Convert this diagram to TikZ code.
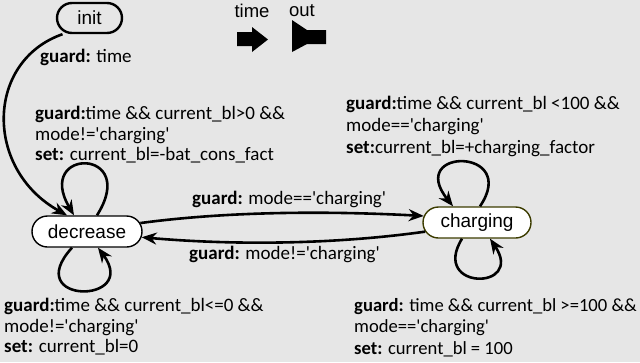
\documentclass[tikz,border=0pt]{standalone}
\usepackage{fontspec}
\newfontfamily\calfont{Carlito}
\newfontfamily\arialfont{Liberation Sans}
\usetikzlibrary{arrows.meta,shapes.misc}

\definecolor{bggray}{RGB}{230,230,230}
\definecolor{chargeedge}{RGB}{60,60,0}

\tikzset{
	state/.style = {rounded rectangle, draw, line width=1.4pt, fill=white, minimum height=31pt, inner sep=0pt, font=\arialfont\fontsize{19}{22}\selectfont},
	trans/.style = {line width=2.6pt, -{Stealth[length=15pt,width=12pt]}},
	guardtxt/.style = {inner sep=0pt, anchor=north west, align=left, font=\calfont\fontsize{19}{20.5}\selectfont},
	porttxt/.style = {inner sep=0pt, font=\arialfont\fontsize{18.5}{20}\selectfont}
}

\begin{document}
\begin{tikzpicture}[x=1pt, y=-1pt]
	\fill [bggray] (0,0) rectangle (640,362);
	\useasboundingbox (0,0) rectangle (640,362);
	% states
	\node [state, fill=bggray, line width=2.4pt, minimum width=65pt, minimum height=30pt] (init) at (89.5,18) {init};
	\node [state, minimum width=110pt] (dec) at (87,231.5) {decrease};
	\node [state, draw=chargeedge, minimum width=108pt] (chg) at (477,222.5) {charging};
	% ports
	\node [porttxt] (timelbl) at (252,11) {time};
	\node [porttxt] (outlbl) at (302,11) {out};
	\fill (237,32) -- (252,32) -- (252,27) -- (268,39.5) -- (252,52) -- (252,46) -- (237,46) -- cycle;
	\fill (292,20) -- (307,30) -- (326,30) -- (326,44) -- (307,44) -- (292,52) -- cycle;
	% transitions
	\draw [trans] ([xshift=-27pt]init.south) .. controls +(-77,27) and +(-83,-46) .. ([xshift=-20pt]dec.north);
	\draw [trans] ([xshift=10pt]dec.north) .. controls +(43,-68) and +(-40,-68) .. ([xshift=-13pt]dec.north);
	\draw [trans] ([xshift=-15pt]dec.south) .. controls +(-52,57) and +(42,57) .. ([xshift=11pt]dec.south);
	\draw [trans] ([xshift=3pt]chg.north) .. controls +(40,-59) and +(-47,-59) .. ([xshift=-24pt]chg.north);
	\draw [trans] ([xshift=-15pt]chg.south) .. controls +(-32,52) and +(35,52) .. ([xshift=13pt]chg.south);
	\draw [trans] (dec.9) .. controls (230,211) and (330,211) .. (chg.173);
	\draw [trans] (chg.190) .. controls (330,245) and (230,245) .. (dec.354);
	% guards
	\node [guardtxt] (gtime) at (40,49) {\textbf{guard:} time};
	\node [guardtxt] (gdec) at (35,106) {\textbf{guard:}time \&\& current\_bl>0 \&\&\\ mode!='charging'\\ \textbf{set:} current\_bl=-bat\_cons\_fact};
	\node [guardtxt, font=\calfont\fontsize{19}{22}\selectfont] (gchg) at (346,96) {\textbf{guard:}time \&\& current\_bl <100 \&\&\\ mode=='charging'\\ \textbf{set:}current\_bl=+charging\_factor};
	\node [guardtxt] (gzero) at (4,298) {\textbf{guard:}time \&\& current\_bl<=0 \&\&\\ mode!='charging'\\ \textbf{set:} current\_bl=0};
	\node [guardtxt, font=\calfont\fontsize{18.6}{21.5}\selectfont] (gfull) at (354,298) {\textbf{guard:} time \&\& current\_bl >=100 \&\&\\ mode=='charging'\\ \textbf{set:} current\_bl = 100};
	\node [guardtxt] (gtochg) at (192,191) {\textbf{guard:} mode=='charging'};
	\node [guardtxt] (gtodec) at (189,246) {\textbf{guard:} mode!='charging'};
\end{tikzpicture}
\end{document}
